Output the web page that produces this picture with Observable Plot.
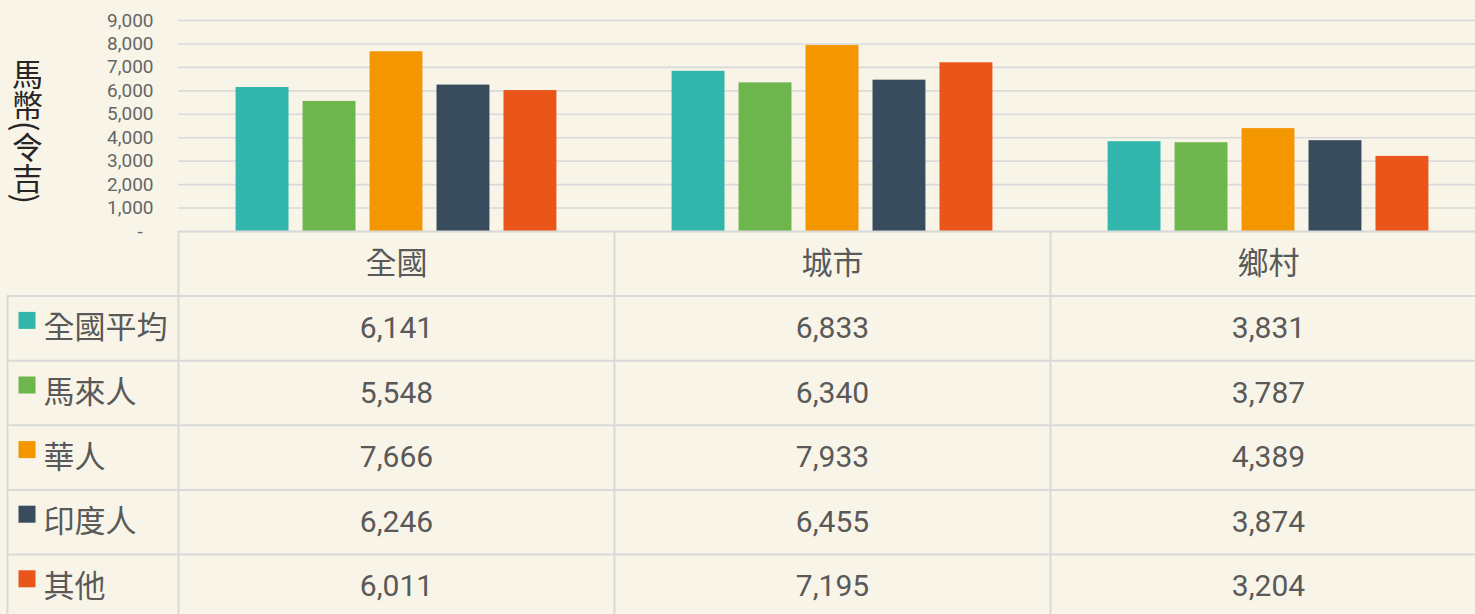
<!DOCTYPE html>
<html>
<head>
<meta charset="utf-8">
<script src="https://cdn.jsdelivr.net/npm/d3@7"></script>
<script src="https://cdn.jsdelivr.net/npm/@observablehq/plot@0.6"></script>
<style>
  html, body { margin: 0; padding: 0; background: #F8F5E8; }
  #wrap { position: relative; width: 1475px; height: 614px; overflow: hidden; background: #F8F5E8; }
  #chart, #table { position: absolute; left: 0; top: 0; }
  #chart svg, #table svg { max-width: none !important; }
  #ylabel { position: absolute; left: 12px; top: 59px; writing-mode: vertical-rl; font-family: "Noto Sans CJK TC", sans-serif; font-size: 31px; line-height: 1; color: #262626; }
</style>
</head>
<body>
<div id="wrap">
  <div id="chart"></div>
  <div id="table"></div>
  <div id="ylabel">馬幣(令吉)</div>
</div>
<script>
// ---- data ----
const groups = ["全國", "城市", "鄉村"];
const series = ["全國平均", "馬來人", "華人", "印度人", "其他"];
const colors = ["#32B6AB", "#6DB54D", "#F39600", "#394C5E", "#EA5519"];
const valuesNational = [6141, 5548, 7666, 6246, 6011];
const valuesUrban    = [6833, 6340, 7933, 6455, 7195];
const valuesRural    = [3831, 3787, 4389, 3874, 3204];
const yTicks = [0, 1000, 2000, 3000, 4000, 5000, 6000, 7000, 8000, 9000];

const valuesByGroup = [valuesNational, valuesUrban, valuesRural];
const data = [];
groups.forEach((g, gi) => series.forEach((s, si) => data.push({group: g, series: s, value: valuesByGroup[gi][si]})));

const fmt = d3.format(",");
const gridColor = "#D9D9D9";
const textColor = "#595959";
const W = 1500, LEFT = 178, RIGHT = 14;

// ---- bar chart ----
const chart = Plot.plot({
  width: W, height: 232,
  marginLeft: LEFT, marginRight: RIGHT, marginTop: 20, marginBottom: 1,
  style: {background: "transparent", fontFamily: "Roboto, sans-serif", overflow: "visible", maxWidth: "none"},
  fx: {domain: groups, padding: 0, round: false, axis: null},
  x: {domain: series, paddingInner: 0.21, paddingOuter: 0.86, round: false, axis: null},
  y: {domain: [0, 9000], axis: null},
  color: {domain: series, range: colors},
  marks: [
    Plot.gridY(yTicks, {stroke: gridColor, strokeOpacity: 1, strokeWidth: 1.6}),
    Plot.axisY(yTicks, {label: null, tickSize: 0, tickPadding: 25, fontSize: 19, fill: "#666666",
      tickFormat: d => d === 0 ? "-\u2007" : fmt(d)}),
    Plot.barY(data, {fx: "group", x: "series", y: "value", fill: "series"})
  ]
});
document.getElementById("chart").appendChild(chart);

// ---- data table ----
const nRows = series.length + 1;
const LABEL_LEFT = -171 / 436; // left edge of label column, in column units
const headerCells = groups.map((g, i) => ({col: i, row: 0, text: g}));
const valueCells = [];
series.forEach((s, si) => groups.forEach((g, gi) => valueCells.push({col: gi, row: si + 1, text: fmt(valuesByGroup[gi][si])})));
const labelCells = series.map((s, si) => ({row: si + 1, text: s}));

const table = Plot.plot({
  width: W, height: 620,
  marginLeft: LEFT, marginRight: RIGHT, marginTop: 231, marginBottom: 0,
  style: {background: "transparent", overflow: "visible", maxWidth: "none"},
  x: {domain: [0, groups.length], axis: null},
  y: {domain: [0, nRows], range: [231, 231 + nRows * 64.6], axis: null},
  color: {domain: series, range: colors},
  marks: [
    Plot.ruleY([0], {x1: 0, x2: groups.length, stroke: gridColor, strokeWidth: 2}),
    Plot.ruleY(d3.range(1, nRows + 1), {x1: LABEL_LEFT, x2: groups.length, stroke: gridColor, strokeWidth: 2}),
    Plot.ruleX(d3.range(0, groups.length + 1), {y1: 0, y2: nRows, stroke: gridColor, strokeWidth: 2}),
    Plot.ruleX([LABEL_LEFT], {y1: 1, y2: nRows, stroke: gridColor, strokeWidth: 2}),
    Plot.text(headerCells, {x: d => d.col + 0.5, y: d => d.row + 0.5, text: "text",
      fontSize: 31, fill: textColor, fontFamily: "Noto Sans CJK TC, sans-serif"}),
    Plot.text(valueCells, {x: d => d.col + 0.5, y: d => d.row + 0.5, text: "text",
      fontSize: 30, fill: textColor, fontFamily: "Roboto, sans-serif"}),
    Plot.text(labelCells, {x: LABEL_LEFT, dx: 36, y: d => d.row + 0.5, text: "text", textAnchor: "start",
      fontSize: 31, fill: textColor, fontFamily: "Noto Sans CJK TC, sans-serif"}),
    Plot.dot(labelCells, {x: LABEL_LEFT, dx: 19.5, dy: -8, y: d => d.row + 0.5, symbol: "square", r: 9.6,
      fill: d => d.text, stroke: null})
  ]
});
document.getElementById("table").appendChild(table);
</script>
</body>
</html>
